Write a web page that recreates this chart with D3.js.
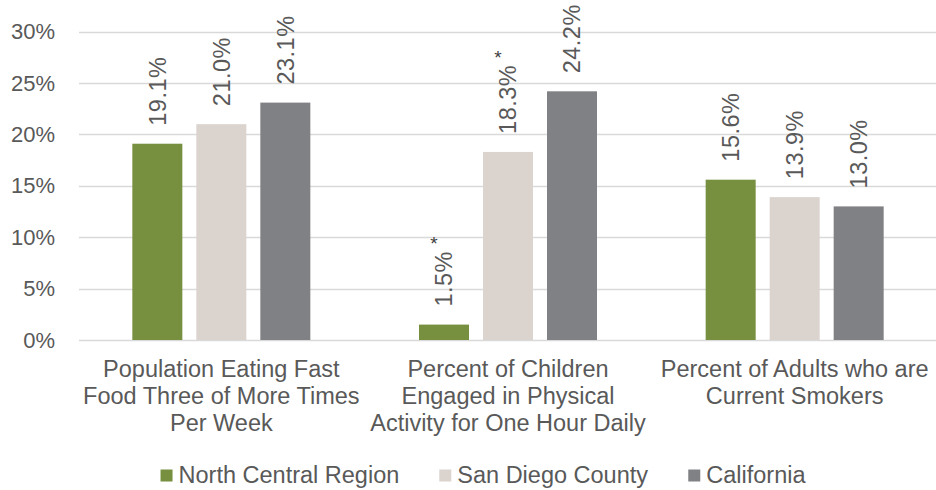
<!DOCTYPE html>
<html>
<head>
<meta charset="utf-8">
<script src="https://cdn.jsdelivr.net/npm/d3@7/dist/d3.min.js"></script>
<style>
  html, body { margin: 0; padding: 0; background: #fff; }
  svg { display: block; font-family: "Liberation Sans", Arial, sans-serif; }
</style>
</head>
<body>
<svg id="chart" width="936" height="490"></svg>
<script>
// ---- data ----
const categories = [
  ["Population Eating Fast", "Food Three of More Times", "Per Week"],
  ["Percent of Children", "Engaged in Physical", "Activity for One Hour Daily"],
  ["Percent of Adults who are", "Current Smokers"]
];
const seriesNames = ["North Central Region", "San Diego County", "California"];
const northCentral = [19.1, 1.5, 15.6];
const sanDiego = [21.0, 18.3, 13.9];
const california = [23.1, 24.2, 13.0];
// asterisk flags, indexed [category][series]
const flagged = [[false, false, false], [true, true, false], [false, false, false]];
const yTicks = [0, 5, 10, 15, 20, 25, 30];
const colors = ["#77903F", "#DAD3CE", "#808184"];

const seriesValues = [northCentral, sanDiego, california];

// ---- layout ----
const svg = d3.select("#chart");
const plotLeft = 78, plotRight = 938, plotTop = 31.7, plotBottom = 340;
const textColor = "#595959";

const y = d3.scaleLinear().domain([0, 30]).range([plotBottom, plotTop]);
const x0 = d3.scaleBand().domain(d3.range(categories.length)).range([plotLeft, plotRight]).padding(0);
const x1 = d3.scaleBand().domain(d3.range(seriesNames.length)).range([0, 206]).padding(14 / 64);
const groupOffset = (x0.bandwidth() - 206) / 2;

// gridlines
svg.append("g")
  .selectAll("line")
  .data(yTicks)
  .join("line")
  .attr("x1", plotLeft + 1).attr("x2", 936)
  .attr("y1", d => Math.round(y(d)) + 0.5).attr("y2", d => Math.round(y(d)) + 0.5)
  .attr("stroke", "#D9D9D9").attr("stroke-width", 1.3);

// y axis labels
const yAxis = d3.axisLeft(y).tickValues(yTicks).tickFormat(d => d + "%").tickSize(0).tickPadding(0);
const ya = svg.append("g").attr("transform", "translate(55,0)").call(yAxis);
ya.select(".domain").remove();
ya.selectAll("text").attr("fill", textColor).style("font-size", "22px")
  .style("font-family", "'Liberation Sans', Arial, sans-serif");

// bars
const groups = svg.append("g")
  .selectAll("g")
  .data(categories.map((c, i) => i))
  .join("g")
  .attr("transform", i => `translate(${x0(i) + groupOffset},0)`);

groups.selectAll("rect")
  .data(i => seriesValues.map((s, j) => ({ cat: i, ser: j, v: s[i] })))
  .join("rect")
  .attr("x", d => x1(d.ser))
  .attr("width", x1.bandwidth())
  .attr("y", d => y(d.v))
  .attr("height", d => y(0) - y(d.v))
  .attr("fill", d => colors[d.ser]);

// value labels
groups.each(function (i) {
  const g = d3.select(this);
  seriesValues.forEach((s, j) => {
    const v = s[i];
    const cx = x1(j) + x1.bandwidth() / 2;
    const y0 = y(v) - 18;
    const t = g.append("text")
      .attr("transform", `translate(${cx},${y0}) rotate(-90)`)
      .attr("dy", "0.36em")
      .attr("fill", textColor)
      .style("font-size", "23.5px")
      .style("letter-spacing", "0.5px")
      .text(v.toFixed(1) + "%");
    if (flagged[i][j]) {
      const len = t.node().getComputedTextLength();
      g.append("text")
        .attr("x", cx - 10)
        .attr("y", y0 - len - 1)
        .attr("text-anchor", "middle")
        .attr("fill", "#404040")
        .style("font-size", "19px")
        .text("*");
    }
  });
});

// category labels
const cat = svg.append("g")
  .selectAll("text")
  .data(categories.map((c, i) => i))
  .join("text")
  .attr("x", i => x0(i) + x0.bandwidth() / 2)
  .attr("y", 377)
  .attr("text-anchor", "middle")
  .attr("fill", textColor)
  .style("font-size", "23.5px");
cat.selectAll("tspan")
  .data(i => categories[i])
  .join("tspan")
  .attr("x", function () { return d3.select(this.parentNode).attr("x"); })
  .attr("dy", (d, k) => k === 0 ? 0 : 27)
  .text(d => d);

// legend
const legend = svg.append("g");
const items = legend.selectAll("g")
  .data(seriesNames)
  .join("g");
items.append("rect")
  .attr("width", 12).attr("height", 12)
  .attr("y", 469.5)
  .attr("fill", (d, j) => colors[j]);
items.append("text")
  .attr("x", 18).attr("y", 483)
  .attr("fill", textColor)
  .style("font-size", "23.5px")
  .text(d => d);
let widths = [];
items.each(function () { widths.push(this.getBBox().width); });
const gap = 40;
const total = d3.sum(widths) + gap * (widths.length - 1);
let cursor = 483.5 - total / 2;
items.attr("transform", (d, j) => {
  const tx = cursor;
  cursor += widths[j] + gap;
  return `translate(${tx},0)`;
});
</script>
</body>
</html>
